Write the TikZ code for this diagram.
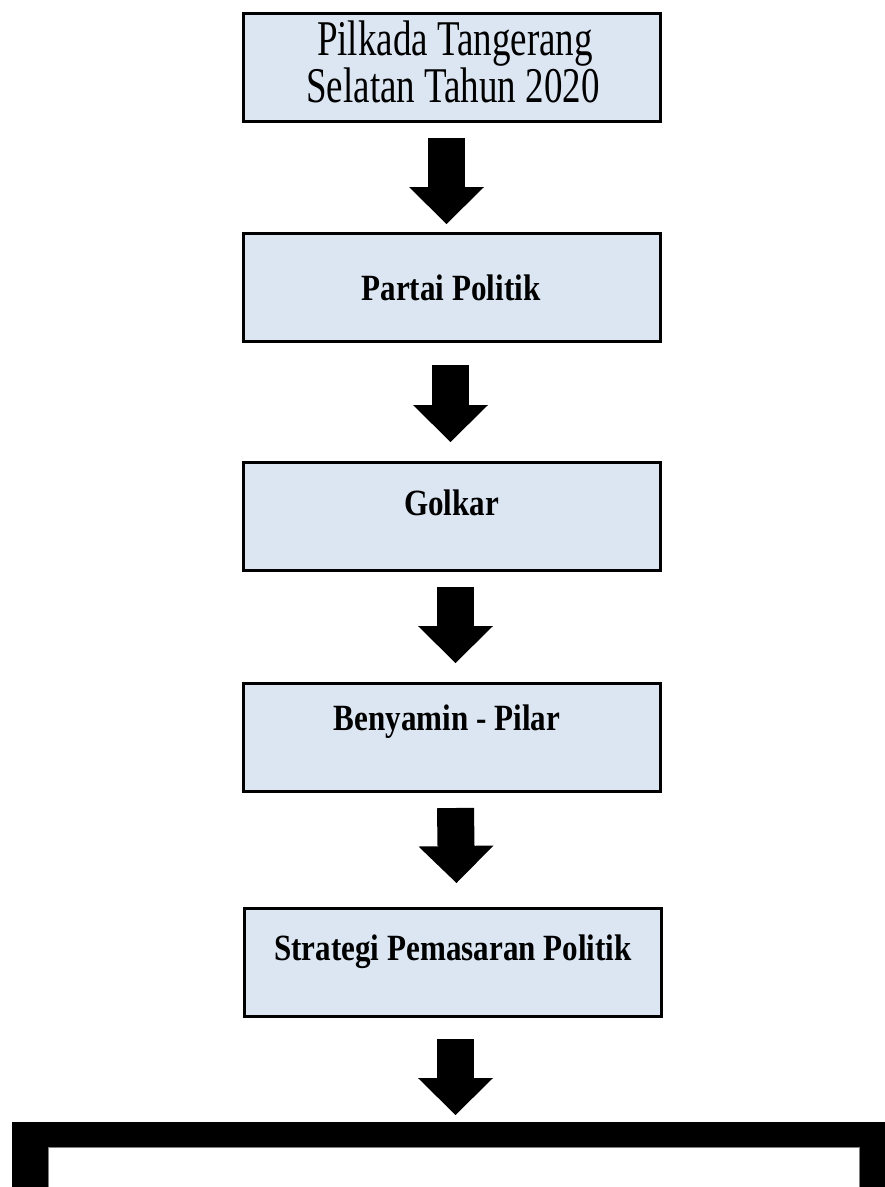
\documentclass[tikz,border=0pt]{standalone}
\usepackage{fontspec}
\setmainfont{Liberation Serif}
\usetikzlibrary{arrows.meta}
\definecolor{boxfill}{HTML}{DCE6F2}
\begin{document}
\begin{tikzpicture}[x=1pt,y=-1pt,
  box/.style={draw=black, line width=3pt, fill=boxfill, minimum width=417pt, minimum height=108pt, inner sep=0pt, outer sep=0pt},
  lblb/.style={font=\bfseries\fontsize{37}{40}\selectfont, inner sep=0pt, outer sep=0pt, anchor=base},
  lblr/.style={font=\fontsize{50}{47}\selectfont, inner sep=0pt, outer sep=0pt, anchor=base},
  blockarrow/.style={draw=black, line width=37pt, -{Triangle[width=75pt,length=37pt,line width=0pt]}}]
\useasboundingbox (0,0) rectangle (885,1187);
\fill[white] (0,0) rectangle (885,1187);
% boxes
\node[box] (b1) at (452,67.5) {};
\node[box] (b2) at (452,287.5) {};
\node[box] (b3) at (452,516) {};
\node[box] (b4) at (452,737) {};
\node[box] (b5) at (453,962) {};
% texts
\node[lblr] (t1a) at (455,55) {\scalebox{0.74}[1]{Pilkada Tangerang}};
\node[lblr] (t1b) at (453,102) {\scalebox{0.74}[1]{Selatan Tahun 2020}};
\node[lblb] (t2) at (451,300) {\scalebox{0.84}[1]{Partai Politik}};
\node[lblb] (t3) at (451.5,515) {\scalebox{0.84}[1]{Golkar}};
\node[lblb] (t4) at (447,730) {\scalebox{0.84}[1]{Benyamin - Pilar}};
\node[lblb] (t5) at (453,960) {\scalebox{0.84}[1]{Strategi Pemasaran Politik}};
% bottom frame (cut by the page edge)
\begin{scope}
\clip (0,0) rectangle (885,1187);
\node[fill=black, minimum width=883pt, minimum height=140pt, inner sep=0pt, outer sep=0pt, anchor=north west] (b6) at (12,1122) {};
\filldraw[fill=white, draw=gray, line width=0.8pt] (48,1147) rectangle (859,1270);
\end{scope}
% arrows
\draw[blockarrow] ([xshift=-5.5pt,yshift=-16.5pt]b1.south) -- ([xshift=-5.5pt,yshift=9.5pt]b2.north);
\draw[blockarrow] ([xshift=-1.5pt,yshift=-23.5pt]b2.south) -- ([xshift=-1.5pt,yshift=20pt]b3.north);
\draw[blockarrow] ([xshift=3.5pt,yshift=-17pt]b3.south) -- ([xshift=3.5pt,yshift=20pt]b4.north);
\draw[blockarrow] ([xshift=3.5pt,yshift=-17pt]b4.south) -- ([xshift=3.5pt,yshift=25pt]b5.north);
\draw[blockarrow] ([xshift=2.5pt,yshift=-23pt]b5.south) -- ([xshift=2pt,yshift=7pt]b6.north);
\end{tikzpicture}
\end{document}
